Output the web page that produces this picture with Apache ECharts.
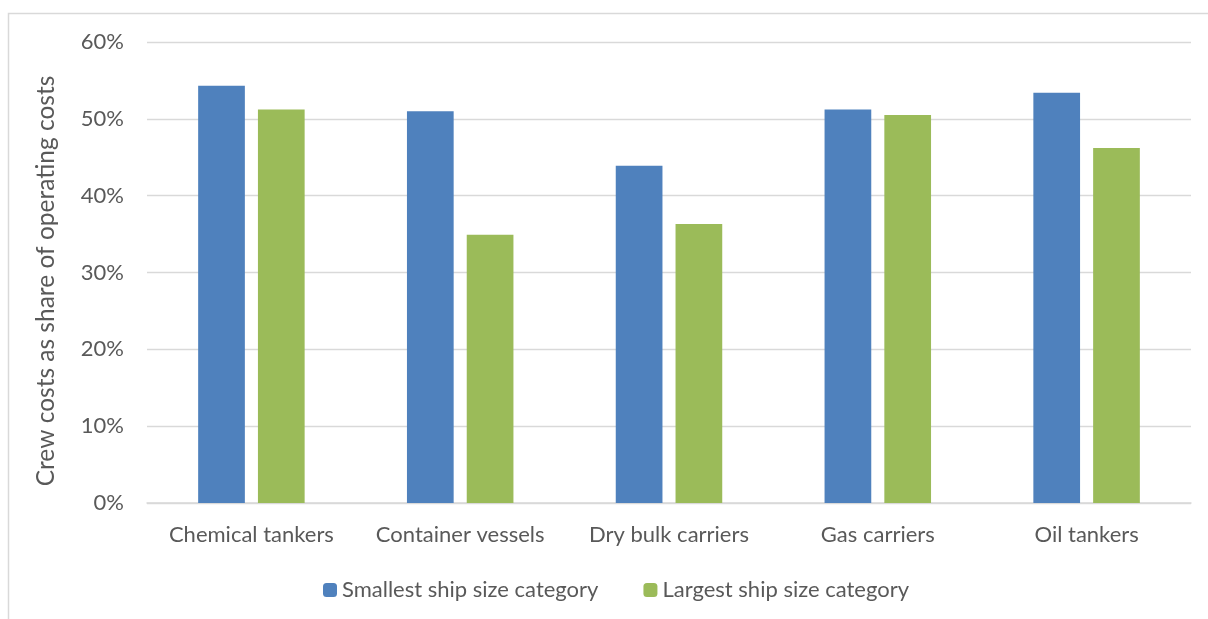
<!DOCTYPE html>
<html><head><meta charset="utf-8">
<script src="https://cdn.jsdelivr.net/npm/echarts@6/dist/echarts.min.js"></script>
<style>html,body{margin:0;padding:0;background:#fff}#c{width:1208px;height:619px}</style>
</head><body><div id="c"></div>
<script>
const categories = ['Chemical tankers', 'Container vessels', 'Dry bulk carriers', 'Gas carriers', 'Oil tankers'];
const smallest = [54.3, 51.0, 43.9, 51.2, 53.4];
const largest = [51.2, 34.9, 36.3, 50.5, 46.2];
const seriesNames = ['Smallest ship size category', 'Largest ship size category'];
const yTicks = [0, 10, 20, 30, 40, 50, 60];

const txt = '#595959';
const font = 'Lato, "Liberation Sans", sans-serif';
const chart = echarts.init(document.getElementById('c'));
chart.setOption({
  animation: false,
  graphic: [{
    type: 'polyline', silent: true,
    shape: { points: [[8.5, 619], [8.5, 13.5], [1208, 13.5]] },
    style: { stroke: '#d9d9d9', lineWidth: 1.5, fill: null }
  }],
  grid: { left: 147, right: 17, top: 42, bottom: 116 },
  legend: {
    data: seriesNames, top: 574, left: 318,
    itemWidth: 14, itemHeight: 14, itemGap: 45,
    textStyle: { color: txt, fontSize: 22, fontFamily: font }
  },
  xAxis: {
    type: 'category', data: categories,
    axisLine: { lineStyle: { color: '#d9d9d9', width: 1.5 } },
    axisTick: { show: false },
    axisLabel: { color: txt, fontSize: 22, fontFamily: font, margin: 21, interval: 0 }
  },
  yAxis: {
    type: 'value', min: yTicks[0], max: yTicks[yTicks.length - 1], interval: 10,
    name: 'Crew costs as share of operating costs',
    nameLocation: 'middle', nameGap: 88, nameRotate: 90,
    nameTextStyle: { color: txt, fontSize: 24.5, fontFamily: font, padding: [0, 17, 0, 0] },
    axisLine: { show: false }, axisTick: { show: false },
    axisLabel: { color: txt, fontSize: 22, fontFamily: font, margin: 23, formatter: '{value}%' },
    splitLine: { lineStyle: { color: '#d9d9d9', width: 1.3 } }
  },
  series: [
    { name: seriesNames[0], type: 'bar', data: smallest, itemStyle: { color: '#4f81bd' }, barGap: '28%', barCategoryGap: '49%' },
    { name: seriesNames[1], type: 'bar', data: largest, itemStyle: { color: '#9bbb59' } }
  ]
});
</script></body></html>
